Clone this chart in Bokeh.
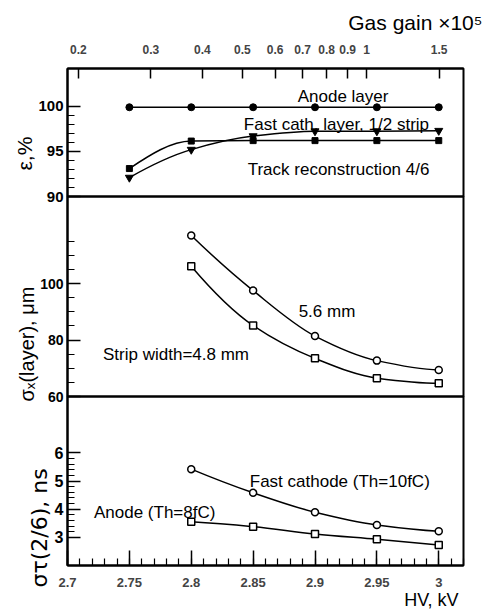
import numpy as np
from bokeh.plotting import figure
from bokeh.layouts import column
from bokeh.models import (Range1d, LogScale, LogAxis, FixedTicker, SingleIntervalTicker,
                          Label, Title, CustomJSTickFormatter)
from bokeh.embed import file_html
from bokeh.resources import INLINE

# ---------------- data ----------------
hv_top = [2.75, 2.8, 2.85, 2.9, 2.95, 3.0]
eff_anode = [99.9, 99.9, 99.9, 99.9, 99.9, 99.9]
eff_fast_cath = [92.1, 95.2, 96.7, 97.25, 97.25, 97.3]
eff_track = [93.1, 96.15, 96.2, 96.2, 96.2, 96.2]

hv = [2.8, 2.85, 2.9, 2.95, 3.0]
sx_56 = [117.0, 97.5, 81.4, 72.7, 69.4]
sx_48 = [106.1, 85.1, 73.5, 66.5, 64.7]
st_cath = [5.42, 4.58, 3.89, 3.44, 3.22]
st_anode = [3.55, 3.38, 3.12, 2.93, 2.73]

gain_ticks = [0.2, 0.3, 0.4, 0.5, 0.6, 0.7, 0.8, 0.9, 1, 1.5]
eff_ticks = [90, 95, 100]
eff_minor = [91, 92, 93, 94, 96, 97, 98, 99]
sx_ticks = [60, 80, 100]
sx_minor = [65, 70, 75, 85, 90, 95, 105, 110, 115]
st_ticks = [3, 4, 5, 6]
st_minor = [3.2, 3.4, 3.6, 3.8, 4.2, 4.4, 4.6, 4.8, 5.2, 5.4, 5.6, 5.8]

FONT = "Liberation Sans"
O = 12  # overlap of neighbouring canvases so edge labels are not clipped


def smooth(xs, ys):
    """Monotone cubic (Fritsch-Carlson) curve through the points, as bezier segments."""
    xs = np.asarray(xs, float)
    ys = np.asarray(ys, float)
    h = np.diff(xs)
    d = np.diff(ys) / h
    n = len(xs)
    m = np.zeros(n)
    for k in range(1, n - 1):
        if d[k - 1] * d[k] > 0:
            w1 = 2 * h[k] + h[k - 1]
            w2 = h[k] + 2 * h[k - 1]
            m[k] = (w1 + w2) / (w1 / d[k - 1] + w2 / d[k])

    def end(h0, h1, d0, d1):
        mm = ((2 * h0 + h1) * d0 - h0 * d1) / (h0 + h1)
        if np.sign(mm) != np.sign(d0):
            mm = 0.0
        elif np.sign(d0) != np.sign(d1) and abs(mm) > abs(3 * d0):
            mm = 3 * d0
        return mm

    m[0] = end(h[0], h[1], d[0], d[1])
    m[-1] = end(h[-1], h[-2], d[-1], d[-2])
    return dict(x0=xs[:-1], y0=ys[:-1], x1=xs[1:], y1=ys[1:],
                cx0=xs[:-1] + h / 3, cy0=ys[:-1] + m[:-1] * h / 3,
                cx1=xs[1:] - h / 3, cy1=ys[1:] - m[1:] * h / 3)


xr = Range1d(2.7, 3.02)
W = 485


def make(h, top, bottom, yr, xloc=None, margin=None):
    kw = {}
    if margin is not None:
        kw["margin"] = margin
    p = figure(width=W, height=h, x_range=xr, y_range=yr, output_backend="svg",
               toolbar_location=None, x_axis_location=xloc, y_axis_location="left",
               min_border_left=67, min_border_right=22, min_border_top=top,
               min_border_bottom=bottom, **kw)
    p.grid.visible = False
    p.outline_line_color = "black"
    p.outline_line_width = 2
    p.outline_line_alpha = 1
    p.background_fill_alpha = 0
    p.border_fill_alpha = 0
    ax = p.yaxis[0]
    ax.axis_line_width = 2
    ax.major_tick_in = 13
    ax.major_tick_out = 0
    ax.minor_tick_in = 7
    ax.minor_tick_out = 0
    ax.major_tick_line_width = 1.5
    ax.minor_tick_line_width = 1.2
    ax.major_label_standoff = 4
    ax.major_label_text_font = FONT
    ax.major_label_text_font_style = "bold"
    ax.major_label_text_color = "black"
    return p


def txt(p, x, y, s, size="17px"):
    p.add_layout(Label(x=x, y=y, text=s, text_font=FONT, text_font_size=size,
                       text_align="left", text_baseline="alphabetic", text_color="black"))


def side_title(p, s, where, align, offset, size="20px", valign="bottom", standoff=0,
               font=FONT):
    p.add_layout(Title(text=s, align=align, offset=offset, text_font=font,
                       text_font_size=size, text_font_style="normal", text_color="black",
                       vertical_align=valign, standoff=standoff), where)


def curve(p, xs, ys):
    p.bezier(line_color="black", line_width=1.5, **smooth(xs, ys))


# ---------------- top panel: efficiency ----------------
p1 = make(196 + O, 68, O, Range1d(90, 104.2))
p1.yaxis[0].ticker = FixedTicker(ticks=eff_ticks, minor_ticks=eff_minor)
p1.yaxis[0].major_label_text_font_size = "15px"
p1.extra_x_ranges = {"gain": Range1d(0.1883, 1.718)}
p1.extra_x_scales = {"gain": LogScale()}
gax = LogAxis(x_range_name="gain", ticker=FixedTicker(ticks=gain_ticks, minor_ticks=[]),
              formatter=CustomJSTickFormatter(code="return tick.toString();"))
gax.axis_line_width = 2
gax.major_tick_in = 10
gax.major_tick_out = 0
gax.major_tick_line_width = 1.5
gax.minor_tick_in = 0
gax.minor_tick_out = 0
gax.major_label_standoff = 15
gax.major_label_text_font = FONT
gax.major_label_text_font_style = "bold"
gax.major_label_text_font_size = "12px"
p1.add_layout(gax, "above")

p1.line(hv_top, eff_anode, line_color="black", line_width=1.5)
curve(p1, hv_top, eff_fast_cath)
curve(p1, hv_top, eff_track)
p1.scatter(hv_top, eff_anode, marker="circle", size=7, color="black")
p1.scatter(hv_top, eff_fast_cath, marker="inverted_triangle", size=8, color="black")
p1.scatter(hv_top, eff_track, marker="square", size=6, color="black")

txt(p1, 2.886, 101.09, "Anode layer")
txt(p1, 2.8425, 97.98, "Fast cath. layer, 1/2 strip")
txt(p1, 2.8456, 92.98, "Track reconstruction 4/6")
side_title(p1, "Gas gain \u00d710\u2075", "above", "right", -19, size="21px", standoff=16)
side_title(p1, "\u03b5,%", "left", "left", 26, size="21px")

# ---------------- middle panel: spatial resolution ----------------
p2 = make(200 + 2 * O, O, O, Range1d(60, 130.8), margin=(-2 * O, 0, 0, 0))
p2.yaxis[0].ticker = FixedTicker(ticks=sx_ticks, minor_ticks=sx_minor)
p2.yaxis[0].major_label_text_font_size = "14px"
curve(p2, hv, sx_56)
curve(p2, hv, sx_48)
p2.scatter(hv, sx_56, marker="circle", size=7, fill_color="white", line_color="black",
           line_width=1.5)
p2.scatter(hv, sx_48, marker="square", size=7, fill_color="white", line_color="black",
           line_width=1.5)
txt(p2, 2.8868, 90.06, "5.6 mm")
txt(p2, 2.7287, 74.89, "Strip width=4.8 mm")
side_title(p2, "\u03c3\u2093(layer), \u03bcm", "left", "left", -5)

# ---------------- bottom panel: time resolution ----------------
p3 = make(169 + O + 49, O, 49, Range1d(2, 8), xloc="below", margin=(-2 * O, 0, 0, 0))
p3.yaxis[0].ticker = FixedTicker(ticks=st_ticks, minor_ticks=st_minor)
p3.yaxis[0].major_label_text_font_size = "16px"
xa = p3.xaxis[0]
xa.ticker = SingleIntervalTicker(interval=0.05, num_minor_ticks=5)
xa.formatter = CustomJSTickFormatter(code="return (Math.round(tick*100)/100).toString();")
xa.axis_line_width = 2
xa.major_tick_in = 15
xa.major_tick_out = 0
xa.minor_tick_in = 7
xa.minor_tick_out = 0
xa.major_tick_line_width = 1.5
xa.minor_tick_line_width = 1.2
xa.major_label_standoff = 12
xa.major_label_text_font = FONT
xa.major_label_text_font_style = "bold"
xa.major_label_text_font_size = "13px"

curve(p3, hv, st_cath)
curve(p3, hv, st_anode)
p3.scatter(hv, st_cath, marker="circle", size=7, fill_color="white", line_color="black",
           line_width=1.5)
p3.scatter(hv, st_anode, marker="square", size=7, fill_color="white", line_color="black",
           line_width=1.5)
txt(p3, 2.8473, 4.986, "Fast cathode (Th=10fC)")
txt(p3, 2.7214, 3.887, "Anode (Th=8fC)")
side_title(p3, "HV, kV", "below", "right", 5, size="18px", valign="top")
side_title(p3, "\u03c3\u03c4(2/6), ns", "left", "left", -22, size="22px", font="DejaVu Sans")

layout = column(p1, p2, p3)
open("out.html", "w").write(file_html(layout, INLINE))
